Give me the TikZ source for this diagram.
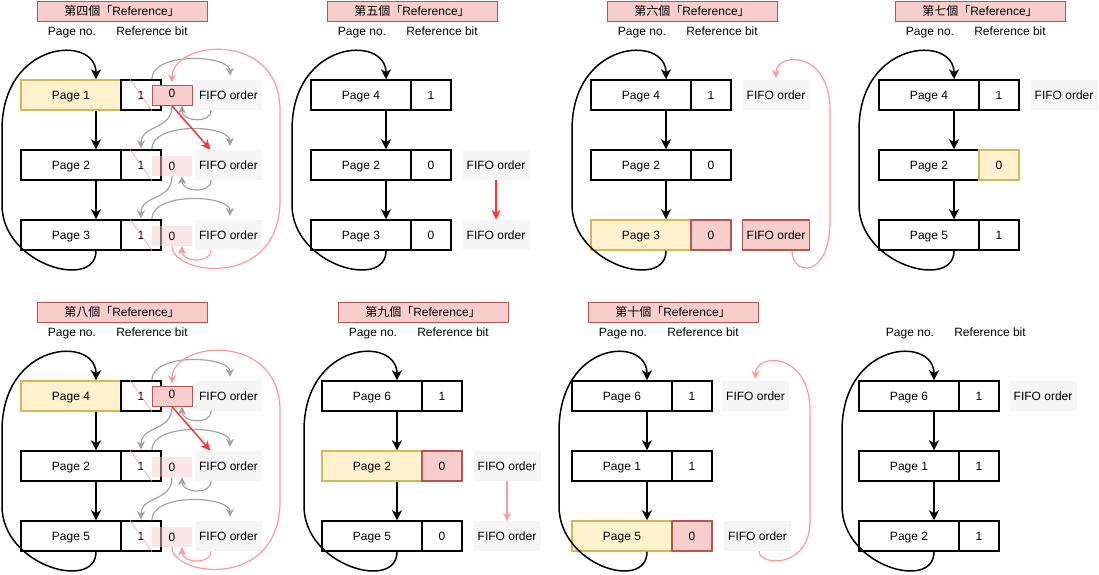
\documentclass[tikz,border=0pt]{standalone}
\usepackage{fontspec}
\setmainfont{Liberation Sans}
\newfontfamily\cjk{Noto Sans CJK TC}
\usetikzlibrary{arrows.meta,calc}

\definecolor{yellowfill}{HTML}{FFF2CC}
\definecolor{yellowline}{HTML}{D6B656}
\definecolor{pinkfill}{HTML}{F8CECC}
\definecolor{pinkline}{HTML}{B85450}
\definecolor{fifogray}{HTML}{F5F5F5}
\definecolor{arrgray}{HTML}{A3A3A3}
\definecolor{softred}{HTML}{FF9999}
\definecolor{hotred}{HTML}{FF3333}

\begin{document}
\begin{tikzpicture}[x=1pt, y=-1pt, font=\fontsize{12}{14}\selectfont,
    every node/.append style={text height=8.6pt, text depth=0pt},
    headbox/.style={draw=pinkline, fill=pinkfill, minimum width=170pt, minimum height=20pt, inner sep=0pt},
    pagebox/.style={draw, line width=1.5pt, minimum width=100pt, minimum height=30pt, inner sep=0pt},
    bitbox/.style={draw, line width=1.5pt, minimum width=40pt, minimum height=30pt, inner sep=0pt},
    zerobox/.style={minimum width=40pt, minimum height=20pt, inner sep=0pt},
    fifobox/.style={fill=fifogray, minimum width=67pt, minimum height=30pt, inner sep=0pt},
    chosen/.style={fill=yellowfill, draw=yellowline},
    cleared/.style={fill=pinkfill, draw=pinkline},
    link/.style={line width=1.5pt, -{Stealth[length=10pt,width=10pt,inset=3pt]}},
    grey link/.style={arrgray, line width=1.2pt, -{Stealth[length=8pt,width=8pt,inset=2.5pt]}},
    pink link/.style={softred, line width=1.2pt, -{Stealth[length=8pt,width=8pt,inset=2.5pt]}},
    red link/.style={hotred, line width=1.5pt, -{Stealth[length=10pt,width=9pt,inset=3pt]}}]
    \useasboundingbox (0,0) rectangle (1099,574);

    % Fourth and eighth reference: hand sweeps all three pages
    \foreach \dy/\head/\pa/\pb/\pc in {0/四/1/2/3, 301/八/4/2/5} {
    \begin{scope}[shift={(0,\dy)}]
        \node[headbox] (t) at (122,11) {{\cjk 第\head 個「}Reference{\cjk 」}};
        \node (pn) at (72,31) {Page no.};
        \node (rb) at (152,31) {Reference bit};

        \node[pagebox, chosen] (p1) at (71,95) {Page \pa};
        \node[pagebox] (p2) at (71,165) {Page \pb};
        \node[pagebox] (p3) at (71,235) {Page \pc};
        \foreach \i/\y in {1/95,2/165,3/235} {
            \node[bitbox] (b\i) at (141,\y) {1};
            \draw[softred, line width=0.6pt] ([xshift=-11pt]b\i.north) -- ([xshift=11pt]b\i.south);
            \node[fifobox] (f\i) at (228.5,\y) {FIFO order};
        }

        % Bits cleared to zero
        \node[zerobox, cleared] (z1) at (172,95.5) {\raisebox{2pt}{0}};
        \node[zerobox, fill=pinkfill, fill opacity=0.5, text opacity=1] (z2) at (172,166) {0};
        \node[zerobox, fill=pinkfill, fill opacity=0.5, text opacity=1] (z3) at (172,236) {0};

        % Circular list
        \draw[link] ([xshift=25pt]p1.south) -- ([xshift=25pt]p2.north);
        \draw[link] ([xshift=25pt]p2.south) -- ([xshift=25pt]p3.north);
        \draw[link] ([xshift=25pt]p3.south) .. controls +(0,40) and +(0,60) .. (2,205) -- (2,130)
            .. controls +(0,-90) and +(0,-45) .. ([xshift=25pt]p1.north);

        % FIFO pointer steps
        \foreach \i in {1,2,3}
            \draw[grey link, shorten >=4pt] (z\i.west |- b\i.north) .. controls +(0,-28) and +(0,-25) .. ([xshift=1.5pt]f\i.north);
        \draw[grey link] ([xshift=-17.5pt]f1.south) .. controls +(0,14) and +(0,16) .. ([xshift=10pt]z1.south);
        \draw[grey link] ([xshift=-17.5pt]f2.south) .. controls +(0,14) and +(0,16) .. ([xshift=10pt]z2.south);
        \draw[pink link] ([xshift=-17.5pt]f3.south) .. controls +(0,14) and +(0,16) .. ([xshift=10pt]z3.south);
        \draw[grey link, shorten >=1pt] (z1.south) .. controls +(0,25) and +(0,-25) .. (b2.north);
        \draw[grey link, shorten >=1pt] (z2.south) .. controls +(0,25) and +(0,-25) .. (b3.north);
        \draw[red link] (z1.south) -- ([xshift=-18pt]f2.north);
        \draw[pink link, shorten >=3pt] (z3.south) .. controls (172,275) and (280,290) .. (280,200) -- (280,110)
            .. controls (280,30) and (172,40) .. (z1.north);
    \end{scope}
    }

    % Fifth reference
    \begin{scope}[shift={(290,0)}]
        \node[headbox] (t) at (122,11) {{\cjk 第五個「}Reference{\cjk 」}};
        \node (pn) at (72,31) {Page no.};
        \node (rb) at (152,31) {Reference bit};
        \node[pagebox] (p1) at (71,95) {Page 4};
        \node[bitbox] (b1) at (141,95) {1};
        \node[pagebox] (p2) at (71,165) {Page 2};
        \node[bitbox] (b2) at (141,165) {0};
        \node[pagebox] (p3) at (71,235) {Page 3};
        \node[bitbox] (b3) at (141,235) {0};
        \node[fifobox] (f2) at (206,165) {FIFO order};
        \node[fifobox] (f3) at (206,235) {FIFO order};
        \draw[link] ([xshift=25pt]p1.south) -- ([xshift=25pt]p2.north);
        \draw[link] ([xshift=25pt]p2.south) -- ([xshift=25pt]p3.north);
        \draw[link] ([xshift=25pt]p3.south) .. controls +(0,40) and +(0,60) .. (2,205) -- (2,130)
            .. controls +(0,-90) and +(0,-45) .. ([xshift=25pt]p1.north);
        \draw[red link] (f2.south) -- (f3.north);
    \end{scope}

    % Sixth reference
    \begin{scope}[shift={(570,0)}]
        \node[headbox] (t) at (122,11) {{\cjk 第六個「}Reference{\cjk 」}};
        \node (pn) at (72,31) {Page no.};
        \node (rb) at (152,31) {Reference bit};
        \node[pagebox] (p1) at (71,95) {Page 4};
        \node[bitbox] (b1) at (141,95) {1};
        \node[pagebox] (p2) at (71,165) {Page 2};
        \node[bitbox] (b2) at (141,165) {0};
        \node[pagebox, chosen] (p3) at (71,235) {Page 3};
        \node[bitbox, cleared] (b3) at (141,235) {0};
        \node[fifobox] (f1) at (206,95) {FIFO order};
        \node[fifobox, cleared, line width=1.5pt] (f3) at (206,235) {FIFO order};
        \draw[link] ([xshift=25pt]p1.south) -- ([xshift=25pt]p2.north);
        \draw[link] ([xshift=25pt]p2.south) -- ([xshift=25pt]p3.north);
        \draw[link] ([xshift=25pt]p3.south) .. controls +(0,40) and +(0,60) .. (2,205) -- (2,130)
            .. controls +(0,-90) and +(0,-45) .. ([xshift=25pt]p1.north);
        \draw[pink link, shorten >=2pt] ([xshift=16pt]f3.south) .. controls +(0,25) and +(0,60) .. (260,220) -- (260,110)
            .. controls +(0,-60) and +(0,-28) .. (f1.north);
    \end{scope}

    % Seventh reference
    \begin{scope}[shift={(858,0)}]
        \node[headbox] (t) at (122,11) {{\cjk 第七個「}Reference{\cjk 」}};
        \node (pn) at (72,31) {Page no.};
        \node (rb) at (152,31) {Reference bit};
        \node[pagebox] (p1) at (71,95) {Page 4};
        \node[bitbox] (b1) at (141,95) {1};
        \node[pagebox] (p2) at (71,165) {Page 2};
        \node[bitbox, chosen] (b2) at (141,165) {0};
        \node[pagebox] (p3) at (71,235) {Page 5};
        \node[bitbox] (b3) at (141,235) {1};
        \node[fifobox] (f1) at (206,95) {FIFO order};
        \draw[link] ([xshift=25pt]p1.south) -- ([xshift=25pt]p2.north);
        \draw[link] ([xshift=25pt]p2.south) -- ([xshift=25pt]p3.north);
        \draw[link] ([xshift=25pt]p3.south) .. controls +(0,40) and +(0,60) .. (1,205) -- (1,130)
            .. controls +(0,-90) and +(0,-45) .. ([xshift=25pt]p1.north);
    \end{scope}

    % Ninth reference
    \begin{scope}[shift={(301,301)}]
        \node[headbox] (t) at (122,11) {{\cjk 第九個「}Reference{\cjk 」}};
        \node (pn) at (72,31) {Page no.};
        \node (rb) at (152,31) {Reference bit};
        \node[pagebox] (p1) at (71,95) {Page 6};
        \node[bitbox] (b1) at (141,95) {1};
        \node[pagebox, chosen] (p2) at (71,165) {Page 2};
        \node[bitbox, cleared] (b2) at (141,165) {0};
        \node[pagebox] (p3) at (71,235) {Page 5};
        \node[bitbox] (b3) at (141,235) {0};
        \node[fifobox] (f2) at (206,165) {FIFO order};
        \node[fifobox] (f3) at (206,235) {FIFO order};
        \draw[link] ([xshift=25pt]p1.south) -- ([xshift=25pt]p2.north);
        \draw[link] ([xshift=25pt]p2.south) -- ([xshift=25pt]p3.north);
        \draw[link] ([xshift=25pt]p3.south) .. controls +(0,40) and +(0,60) .. (3,205) -- (3,130)
            .. controls +(0,-90) and +(0,-45) .. ([xshift=25pt]p1.north);
        \draw[pink link, line width=1.5pt] (f2.south) -- (f3.north);
    \end{scope}

    % Tenth reference
    \begin{scope}[shift={(551,301)}]
        \node[headbox] (t) at (122,11) {{\cjk 第十個「}Reference{\cjk 」}};
        \node (pn) at (72,31) {Page no.};
        \node (rb) at (152,31) {Reference bit};
        \node[pagebox] (p1) at (71,95) {Page 6};
        \node[bitbox] (b1) at (141,95) {1};
        \node[pagebox] (p2) at (71,165) {Page 1};
        \node[bitbox] (b2) at (141,165) {1};
        \node[pagebox, chosen] (p3) at (71,235) {Page 5};
        \node[bitbox, cleared] (b3) at (141,235) {0};
        \node[fifobox] (f1) at (204.5,95) {FIFO order};
        \node[fifobox] (f3) at (206.5,235) {FIFO order};
        \draw[link] ([xshift=25pt]p1.south) -- ([xshift=25pt]p2.north);
        \draw[link] ([xshift=25pt]p2.south) -- ([xshift=25pt]p3.north);
        \draw[link] ([xshift=25pt]p3.south) .. controls +(0,40) and +(0,60) .. (8,205) -- (8,130)
            .. controls +(0,-90) and +(0,-45) .. ([xshift=25pt]p1.north);
        \draw[pink link, shorten >=2pt] ([xshift=1.5pt]f3.south) .. controls +(0,15) and +(0,48) .. (259,220) -- (259,110)
            .. controls +(0,-60) and +(0,-28) .. (f1.north);
    \end{scope}

    % Final state
    \begin{scope}[shift={(838,301)}]
        \node (pn) at (72,31) {Page no.};
        \node (rb) at (152,31) {Reference bit};
        \node[pagebox] (p1) at (71,95) {Page 6};
        \node[bitbox] (b1) at (141,95) {1};
        \node[pagebox] (p2) at (71,165) {Page 1};
        \node[bitbox] (b2) at (141,165) {1};
        \node[pagebox] (p3) at (71,235) {Page 2};
        \node[bitbox] (b3) at (141,235) {1};
        \node[fifobox] (f1) at (205,95) {FIFO order};
        \draw[link] ([xshift=25pt]p1.south) -- ([xshift=25pt]p2.north);
        \draw[link] ([xshift=25pt]p2.south) -- ([xshift=25pt]p3.north);
        \draw[link] ([xshift=25pt]p3.south) .. controls +(0,40) and +(0,60) .. (4,205) -- (4,130)
            .. controls +(0,-90) and +(0,-45) .. ([xshift=25pt]p1.north);
    \end{scope}
\end{tikzpicture}
\end{document}
